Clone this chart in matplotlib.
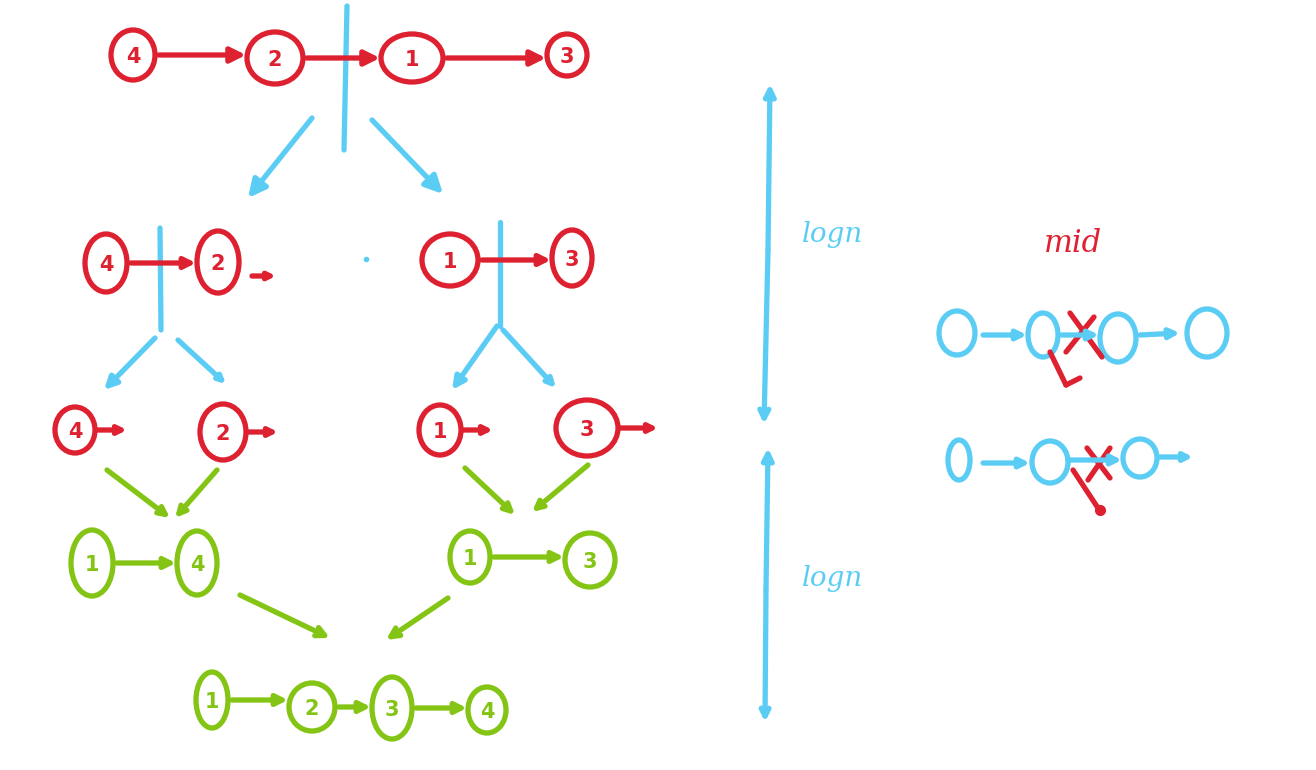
import matplotlib
matplotlib.use("Agg")
import matplotlib.pyplot as plt
from matplotlib.patches import Ellipse

RED = "#dd2131"
BLUE = "#5bcdf5"
GREEN = "#84c414"

# list values at each stage of the merge sort
start_list = [4, 2, 1, 3]
split_left = [4, 2]
split_right = [1, 3]
singles = [4, 2, 1, 3]
merged_left = [1, 4]
merged_right = [1, 3]
result_list = [1, 2, 3, 4]
depth_labels = ["logn", "logn"]
mid_label = "mid"

# layout (pixel space, y downwards)
start_xy = [(133, 55, 44, 50), (275, 58, 56, 52), (412, 58, 62, 48), (567, 55, 40, 42)]
split_left_xy = [(106, 263, 42, 58), (218, 262, 42, 62)]
split_right_xy = [(450, 260, 56, 52), (572, 258, 40, 56)]
singles_xy = [(75, 430, 40, 46), (223, 432, 46, 56), (440, 430, 42, 50), (587, 428, 62, 56)]
merged_left_xy = [(92, 563, 42, 66), (197, 563, 40, 64)]
merged_right_xy = [(470, 557, 40, 52), (590, 560, 50, 54)]
result_xy = [(212, 700, 32, 56), (312, 707, 46, 48), (392, 708, 40, 62), (487, 710, 38, 46)]

LW = 3.8


def node(ax, spec, label, color, fs=15):
    x, y, w, h = spec
    ax.add_patch(Ellipse((x, y), w, h, fill=False, ec=color, lw=LW))
    if label is not None:
        ax.text(x, y + 2, str(label), color=color, fontsize=fs, fontweight="bold",
                ha="center", va="center", family="DejaVu Sans")


def arrow(ax, x0, y0, x1, y1, color, head=16, style="-|>"):
    ax.annotate("", xy=(x1, y1), xytext=(x0, y0),
                arrowprops=dict(arrowstyle=style, color=color, lw=LW,
                                mutation_scale=head, shrinkA=0, shrinkB=0,
                                capstyle="round", joinstyle="round"))


def line(ax, x0, y0, x1, y1, color):
    ax.plot([x0, x1], [y0, y1], color=color, lw=LW, solid_capstyle="round")


def chain(ax, values, specs, color, gap=4, head=16):
    for v, s in zip(values, specs):
        node(ax, s, v, color)
    for a, b in zip(specs[:-1], specs[1:]):
        x0 = a[0] + a[2] / 2 + gap
        x1 = b[0] - b[2] / 2 - 1
        arrow(ax, x0, a[1], x1, a[1], color, head=head)


fig = plt.figure(figsize=(13.16, 7.70), dpi=100)
ax = fig.add_axes([0, 0, 1, 1])
ax.set_xlim(0, 1316)
ax.set_ylim(770, 0)
ax.axis("off")

# --- split phase (red) ---
chain(ax, start_list, start_xy, RED, head=22)
line(ax, 347, 6, 344, 150, BLUE)
arrow(ax, 312, 118, 248, 198, BLUE, head=26)
arrow(ax, 372, 120, 443, 194, BLUE, head=26)

chain(ax, split_left, split_left_xy, RED)
arrow(ax, 252, 276, 276, 276, RED, head=10)
line(ax, 160, 228, 161, 330, BLUE)
chain(ax, split_right, split_right_xy, RED)
line(ax, 500, 222, 500, 326, BLUE)
ax.plot([366], [259], "o", color=BLUE, ms=3)

arrow(ax, 155, 338, 104, 390, BLUE, head=18)
arrow(ax, 178, 340, 226, 384, BLUE, head=10)
arrow(ax, 497, 326, 452, 390, BLUE, head=18)
arrow(ax, 503, 330, 556, 388, BLUE, head=12, style="->")

for v, s in zip(singles, singles_xy):
    node(ax, s, v, RED)
    x0 = s[0] + s[2] / 2 + 2
    arrow(ax, x0, s[1], x0 + (30 if s[2] < 50 else 38), s[1], RED, head=12, style="->")

# --- merge phase (green) ---
arrow(ax, 107, 470, 170, 518, GREEN, head=14, style="->")
arrow(ax, 217, 470, 175, 518, GREEN, head=14, style="->")
arrow(ax, 465, 468, 515, 515, GREEN, head=14, style="->")
arrow(ax, 588, 465, 532, 512, GREEN, head=14, style="->")

chain(ax, merged_left, merged_left_xy, GREEN)
chain(ax, merged_right, merged_right_xy, GREEN)

arrow(ax, 240, 595, 330, 638, GREEN, head=16, style="->")
arrow(ax, 448, 598, 386, 640, GREEN, head=16, style="->")

chain(ax, result_list, result_xy, GREEN)

# --- depth markers ---
arrow(ax, 768, 250, 770, 84, BLUE, head=16)
arrow(ax, 768, 250, 764, 424, BLUE, head=16, style="->")
arrow(ax, 766, 590, 768, 448, BLUE, head=16)
arrow(ax, 766, 590, 765, 722, BLUE, head=14)
for label, y in zip(depth_labels, [235, 578]):
    ax.text(832, y, label, color=BLUE, fontsize=20, fontstyle="italic",
            ha="center", va="center", family="DejaVu Serif")

# --- finding the middle (right side) ---
ax.text(1073, 243, mid_label, color=RED, fontsize=22, fontstyle="italic",
        ha="center", va="center", family="DejaVu Serif")

row1 = [(957, 333, 36, 44), (1043, 335, 30, 44), (1118, 338, 36, 48), (1207, 333, 40, 48)]
for s in row1:
    node(ax, s, None, BLUE)
arrow(ax, 983, 335, 1027, 335, BLUE, head=14)
arrow(ax, 1062, 335, 1099, 335, BLUE, head=14)
arrow(ax, 1140, 335, 1180, 333, BLUE, head=14)
line(ax, 1070, 313, 1102, 357, RED)
line(ax, 1094, 317, 1066, 352, RED)
line(ax, 1050, 352, 1066, 385, RED)
line(ax, 1066, 385, 1080, 378, RED)

row2 = [(959, 460, 22, 40), (1050, 462, 36, 42), (1140, 458, 34, 38)]
for s in row2:
    node(ax, s, None, BLUE)
arrow(ax, 983, 463, 1030, 463, BLUE, head=14)
arrow(ax, 1068, 460, 1122, 460, BLUE, head=14)
arrow(ax, 1158, 457, 1193, 457, BLUE, head=12)
line(ax, 1087, 448, 1110, 478, RED)
line(ax, 1110, 448, 1088, 480, RED)
line(ax, 1073, 470, 1098, 508, RED)
ax.plot([1100], [510], "o", color=RED, ms=7)

fig.savefig("out.png", dpi=100, facecolor="white")
